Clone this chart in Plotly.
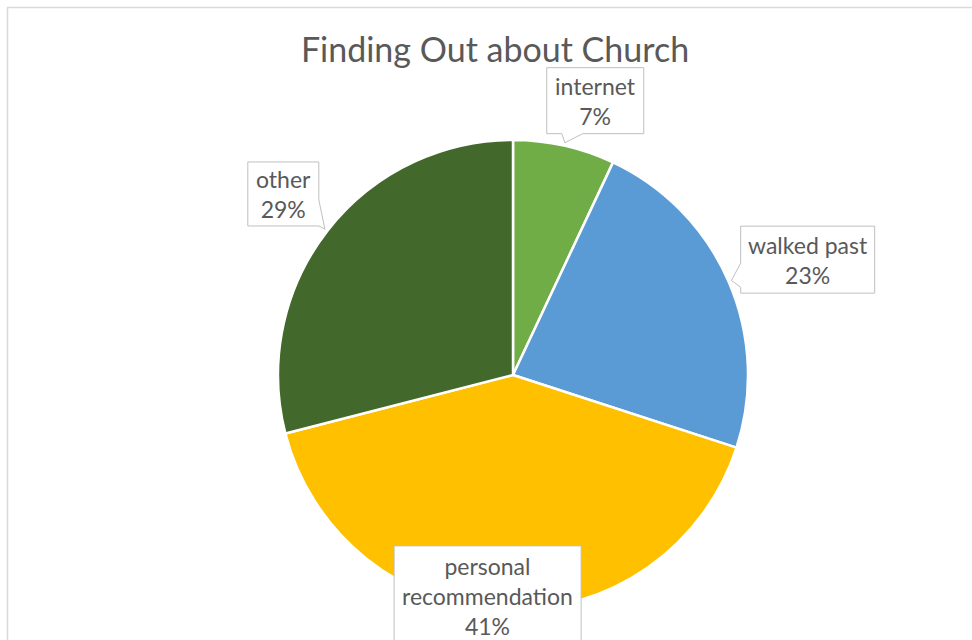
import math
import plotly.graph_objects as go

# Survey answers: how people found out about the church (percent of replies)
categories = ["internet", "walked past", "personal recommendation", "other"]
shares = [7, 23, 41, 29]
label_names = ["internet", "walked past", "personal<br>recommendation", "other"]

colors = ["#70AD47", "#5B9BD5", "#FFC000", "#43682B"]
TEXT_COLOR = "#595959"
BOX_LINE = "#BFBFBF"
FONT = "Lato"

W, H = 972, 640
CX, CY, R = 513, 375, 235   # pie centre and radius, px

# Callout layout per slice: box size, offset of the box centre from the rim
# point at the slice's mid angle, and which side the pointer leaves from.
callouts = [
    dict(w=97, h=66, off=(31, -45), side="bottom", base=(-33.5, -12.5)),
    dict(w=134, h=67, off=(79, -22), side="left", base=(3.5, 27.5)),
    dict(w=187, h=100, off=(-18, -14), side=None, base=None),
    dict(w=71, h=64, off=(-44, -37), side="right", base=(6, 32)),
]


def px(x, y):
    return x / W, 1 - y / H


def rim(angle_deg, radius):
    a = math.radians(angle_deg)
    return CX + radius * math.sin(a), CY - radius * math.cos(a)


def callout_path(cx, cy, w, h, side, base, tip):
    x0, x1, y0, y1 = cx - w / 2, cx + w / 2, cy - h / 2, cy + h / 2
    pts = [(x0, y0), (x1, y0)]
    if side == "right":
        pts += [(x1, cy + base[0]), tip, (x1, cy + base[1])]
    pts.append((x1, y1))
    if side == "bottom":
        pts += [(cx + base[1], y1), tip, (cx + base[0], y1)]
    pts.append((x0, y1))
    if side == "left":
        pts += [(x0, cy + base[1]), tip, (x0, cy + base[0])]
    coords = [px(*p) for p in pts]
    return "M " + " L ".join(f"{x:.5f},{y:.5f}" for x, y in coords) + " Z"


fig = go.Figure(
    go.Pie(
        labels=categories,
        values=shares,
        sort=False,
        direction="clockwise",
        rotation=0,
        marker=dict(colors=colors, line=dict(color="white", width=2.5)),
        textinfo="none",
        hovertemplate="%{label}: %{value}%<extra></extra>",
        showlegend=False,
        domain=dict(
            x=[(CX - R) / W, (CX + R) / W],
            y=[1 - (CY + R) / H, 1 - (CY - R) / H],
        ),
    )
)

shapes = []
annotations = []
total = sum(shares)
cum = 0
for name, value, style in zip(label_names, shares, callouts):
    mid = (cum + value / 2) / total * 360
    cum += value
    ex, ey = rim(mid, R)
    bx, by = ex + style["off"][0], ey + style["off"][1]
    tip = rim(mid, R + 3)
    shapes.append(dict(
        type="path", xref="paper", yref="paper", layer="above",
        path=callout_path(bx, by, style["w"], style["h"], style["side"], style["base"], tip),
        fillcolor="white", line=dict(color=BOX_LINE, width=1),
    ))
    tx, ty = px(bx, by)
    annotations.append(dict(
        x=tx, y=ty, xref="paper", yref="paper", showarrow=False,
        xanchor="center", yanchor="middle",
        text=f"{name}<br>{value}%", align="center",
        font=dict(family=FONT, size=23, color=TEXT_COLOR),
    ))

# Chart-area frame
shapes.append(dict(
    type="rect", xref="paper", yref="paper",
    x0=7.5 / W, x1=1.05, y0=-0.05, y1=1 - 7.5 / H,
    line=dict(color="#D9D9D9", width=1.5), fillcolor="rgba(0,0,0,0)", layer="below",
))

fig.update_layout(
    width=W, height=H,
    margin=dict(l=0, r=0, t=0, b=0),
    paper_bgcolor="white", plot_bgcolor="white",
    title=dict(
        text="Finding Out about Church",
        x=495 / W, xanchor="center", xref="paper",
        y=1 - 50 / H, yanchor="middle", yref="container",
        font=dict(family=FONT, size=34, color=TEXT_COLOR),
    ),
    shapes=shapes,
    annotations=annotations,
)

fig.write_html("out.html")
